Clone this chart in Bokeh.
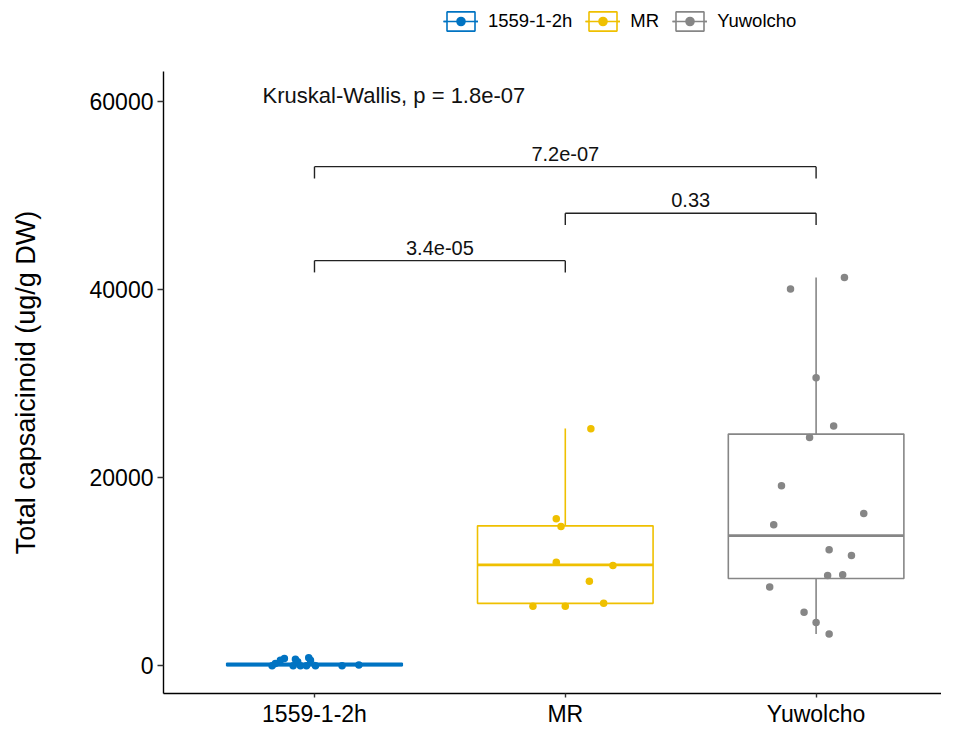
import numpy as np
from bokeh.plotting import figure
from bokeh.layouts import column
from bokeh.models import Range1d, FixedTicker, Legend, LegendItem
from bokeh.core.properties import value
from bokeh.embed import file_html
from bokeh.resources import INLINE

# ---------------- data ----------------
groups = ["1559-1-2h", "MR", "Yuwolcho"]
colors = ["#0073C2", "#EFC000", "#868686"]

# box statistics
q1 = [20, 6650, 9300]
median = [120, 10740, 13850]
q3 = [280, 14890, 24650]
whisker_low = [0, 6340, 3400]
whisker_high = [450, 25250, 41300]

# jittered observations: values and horizontal jitter (category units)
pts_1559 = [0, 250, 590, 770, 20, 700, 450, 0, 0, 870, 590, 0, 0, 100]
jit_1559 = [-0.169, -0.156, -0.136, -0.120, -0.085, -0.076, -0.067, -0.056,
            -0.032, -0.023, -0.016, 0.004, 0.110, 0.177]
pts_mr = [25210, 15650, 14820, 11010, 10670, 9000, 6340, 6340, 6650]
jit_mr = [0.102, -0.036, -0.017, -0.036, 0.190, 0.096, -0.129, 0.0, 0.153]
pts_yu = [41300, 40090, 30640, 25520, 24300, 19150, 16200, 15000, 12360,
          11740, 9600, 9700, 8380, 5710, 4610, 3400]
jit_yu = [0.113, -0.102, 0.0, 0.070, -0.026, -0.138, 0.190, -0.169, 0.052,
          0.141, 0.046, 0.106, -0.185, -0.048, 0.0, 0.052]
points = [pts_1559, pts_mr, pts_yu]
jitters = [jit_1559, jit_mr, jit_yu]

# pairwise comparisons
cmp_from = [1, 2, 1]
cmp_to = [2, 3, 3]
cmp_y = [43100, 48150, 53100]
cmp_label = ["3.4e-05", "0.33", "7.2e-07"]
tip_len = 1250
label_gap = 1350

kw_label = "Kruskal-Wallis, p = 1.8e-07"
kw_x = 0.793
kw_y = 60675

y_ticks = [0, 20000, 40000, 60000]
y_label = "Total capsaicinoid (ug/g DW)"

FONT = "Liberation Sans"
half_w = 0.35
W = 941
LEG_H = 71
H = 730

# ---------------- main figure ----------------
p = figure(width=W, height=H - LEG_H,
           x_range=Range1d(0.398, 3.500), y_range=Range1d(-2940, 63220),
           output_backend="svg", toolbar_location=None,
           min_border_left=163, min_border_right=0,
           min_border_top=0, min_border_bottom=37)
p.background_fill_color = "white"
p.border_fill_color = "white"
p.outline_line_color = None
p.grid.visible = False

for i, g in enumerate(groups):
    xc = i + 1
    c = colors[i]
    p.segment(x0=[xc, xc], y0=[q3[i], q1[i]], x1=[xc, xc],
              y1=[whisker_high[i], whisker_low[i]], line_color=c, line_width=1.6)
    p.quad(left=[xc - half_w], right=[xc + half_w], bottom=[q1[i]], top=[q3[i]],
           fill_color="white", line_color=c, line_width=1.6)
    p.segment(x0=[xc - half_w], y0=[median[i]], x1=[xc + half_w], y1=[median[i]],
              line_color=c, line_width=2.8)
    xs = np.full(len(points[i]), float(xc)) + np.array(jitters[i])
    p.scatter(x=xs, y=points[i], size=7.5, fill_color=c, line_color=None)

# comparison brackets
bx0, by0, bx1, by1 = [], [], [], []
for a, b, y in zip(cmp_from, cmp_to, cmp_y):
    bx0 += [a, a, b]; by0 += [y, y, y]
    bx1 += [b, a, b]; by1 += [y, y - tip_len, y - tip_len]
p.segment(x0=bx0, y0=by0, x1=bx1, y1=by1, line_color="#222222", line_width=1.4)
p.text(x=[(a + b) / 2 for a, b in zip(cmp_from, cmp_to)],
       y=[y + label_gap for y in cmp_y], text=cmp_label,
       text_align="center", text_baseline="middle",
       text_font=value(FONT), text_font_size="20px", text_color="#111111")

p.text(x=[kw_x], y=[kw_y], text=[kw_label], text_align="left",
       text_baseline="middle", text_font=value(FONT),
       text_font_size="22px", text_color="#111111")

# axes
p.xaxis.ticker = FixedTicker(ticks=[1, 2, 3])
p.xaxis.major_label_overrides = {i + 1: g for i, g in enumerate(groups)}
p.yaxis.ticker = FixedTicker(ticks=y_ticks)
p.yaxis.major_label_overrides = {t: str(t) for t in y_ticks}
for ax in (p.xaxis, p.yaxis):
    ax.axis_line_color = "black"
    ax.axis_line_width = 1.4
    ax.major_tick_line_color = "#333333"
    ax.major_tick_line_width = 1.4
    ax.major_tick_in = 0
    ax.minor_tick_line_color = None
    ax.major_label_text_font = FONT
    ax.major_label_text_font_size = "23px"
    ax.major_label_text_color = "black"
p.xaxis.major_tick_out = 4
p.xaxis.major_label_standoff = 3
p.yaxis.major_tick_out = 6
p.yaxis.major_label_standoff = 4

p.yaxis.axis_label = y_label
p.yaxis.axis_label_text_font = FONT
p.yaxis.axis_label_text_font_size = "27px"
p.yaxis.axis_label_text_font_style = "normal"
p.yaxis.axis_label_text_color = "black"
p.yaxis.axis_label_standoff = 46

# ---------------- legend strip ----------------
pl = figure(width=W, height=LEG_H, x_range=Range1d(0, 1), y_range=Range1d(0, 1),
            output_backend="svg", toolbar_location=None,
            min_border_left=0, min_border_right=0, min_border_top=0, min_border_bottom=0)
pl.axis.visible = False
pl.grid.visible = False
pl.outline_line_color = None
pl.background_fill_color = "white"
pl.border_fill_color = "white"

items = []
for i, g in enumerate(groups):
    c = colors[i]
    r_wh = pl.vspan(x=[1], line_color=c, line_width=1.6, visible=False)
    r_box = pl.quad(left=[1 - half_w], right=[1 + half_w], bottom=[q1[i]], top=[q3[i]],
                    fill_color="white", line_color=c, line_width=1.6, visible=False)
    r_med = pl.segment(x0=[1 - half_w], y0=[median[i]], x1=[1 + half_w], y1=[median[i]],
                       line_color=c, line_width=1.6, visible=False)
    r_pt = pl.scatter(x=[1], y=[median[i]], size=7.5, fill_color=c, line_color=None,
                      visible=False)
    items.append(LegendItem(label=g, renderers=[r_wh, r_box, r_med, r_pt]))

legend = Legend(items=items, orientation="horizontal", location=(280, 38),
                glyph_width=35, glyph_height=24, label_standoff=10, spacing=13,
                padding=0, margin=0, border_line_color=None,
                background_fill_alpha=0, inactive_fill_alpha=0,
                label_text_font=FONT, label_text_font_size="18.5px",
                label_text_color="black", label_width=0, label_height=0)
pl.add_layout(legend)

layout = column(pl, p, spacing=0)
open("out.html", "w").write(file_html(layout, INLINE))
